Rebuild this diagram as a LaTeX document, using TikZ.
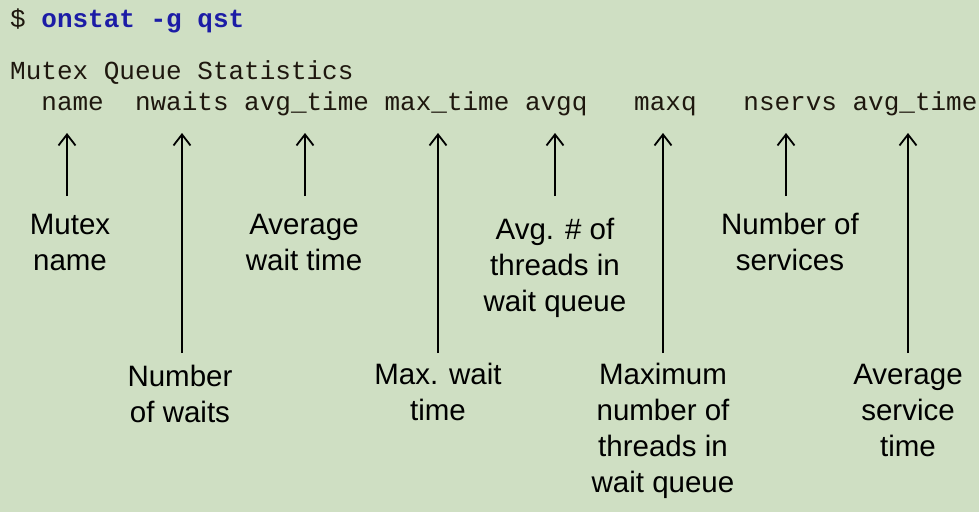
\documentclass[tikz,border=0pt]{standalone}
\usepackage{fontspec}
\setmainfont{Liberation Sans}
\newfontfamily\monof{Liberation Mono}
\usetikzlibrary{arrows.meta}
\definecolor{bgc}{HTML}{CFDFC3}
\definecolor{monoc}{HTML}{1E170E}
\definecolor{cmdc}{HTML}{1C1CA6}
\tikzset{
  mono/.style={anchor=base west, inner sep=0pt, text=monoc, font=\monof\fontsize{26}{30}\selectfont},
  lbl/.style={align=center, inner sep=0pt, font=\fontsize{29.5}{36}\selectfont},
  pointer/.style={line width=1.8pt, -{Straight Barb[length=11pt,width=17pt,line width=1.8pt]}}
}
\begin{document}
\begin{tikzpicture}[x=1pt,y=-1pt]
\fill[bgc] (0,0) rectangle (979,512);
\useasboundingbox (0,0) rectangle (979,512);
\node[mono] (cmd) at (10,27) {\${} \textcolor{cmdc}{\bfseries onstat -g qst}};
\node[mono] (title) at (10,79) {Mutex Queue Statistics};
\node[mono] (hdr) at (10,110) {\ \ name\ \ nwaits avg\_time max\_time avgq\ \ \ maxq\ \ \ nservs avg\_time};
% labels
\node[lbl] (l1) at (70,242) {Mutex\\name};
\node[lbl] (l2) at (180,394) {Number\\of waits};
\node[lbl] (l3) at (304,242) {Average\\wait time};
\node[lbl] (l4) at (438,392) {Max. wait\\time};
\node[lbl] (l5) at (555,268) {Avg. \# of\\threads in\\wait queue};
\node[lbl] (l6) at (663,431) {Maximum\\number of\\threads in\\wait queue};
\node[lbl] (l7) at (790,242) {Number of\\services};
\node[lbl] (l8) at (908,410) {Average\\service\\time};
% arrow ends
\coordinate (t1) at (67,133); \coordinate (b1) at (67,196);
\coordinate (t2) at (182,133); \coordinate (b2) at (182,353);
\coordinate (t3) at (305,133); \coordinate (b3) at (305,196);
\coordinate (t4) at (438,133); \coordinate (b4) at (438,353);
\coordinate (t5) at (555,133); \coordinate (b5) at (555,196);
\coordinate (t6) at (663,133); \coordinate (b6) at (663,353);
\coordinate (t7) at (786,133); \coordinate (b7) at (786,196);
\coordinate (t8) at (908,133); \coordinate (b8) at (908,353);
\foreach \i in {1,...,8} { \draw[pointer] (b\i) -- (t\i); }
\end{tikzpicture}
\end{document}
